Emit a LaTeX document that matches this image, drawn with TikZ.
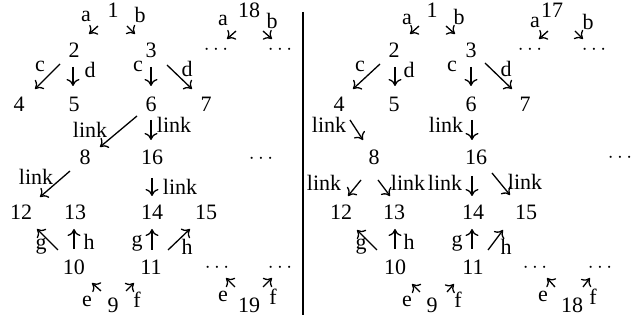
\documentclass[tikz,border=0pt]{standalone}
\usepackage{fontspec}
\setmainfont{Liberation Serif}
\usetikzlibrary{arrows.meta}
\newcommand\conn[3]{\coordinate (#1s) at (#2); \coordinate (#1e) at (#3); \draw[arr] (#1s) -- (#1e);}
\begin{document}
\begin{tikzpicture}[x=1pt,y=-1pt,
  t/.style={anchor=base,inner sep=0pt,font=\fontsize{22}{26}\selectfont},
  arr/.style={line width=1.3pt,-{Computer Modern Rightarrow[length=7pt,width=13pt]}},
  sep/.style={line width=1.2pt}]
\useasboundingbox (0,0) rectangle (641,320);
% separator
\coordinate (sepT) at (303,12); \coordinate (sepB) at (303,315);
\draw[sep] (sepT) -- (sepB);
% ---------------- left diagram ----------------
\node[t] (l1) at (113,18) {1};
\node[t] (la1) at (86,22) {a};
\node[t] (lb1) at (140,23) {b};
\node[t] (l18) at (249,18) {18};
\node[t] (la18) at (223,26) {a};
\node[t] (lb18) at (272,29) {b};
\node[t] (ld1) at (216,54.5) {$\cdots$};
\node[t] (ld2) at (280,54.5) {$\cdots$};
\node[t] (l2) at (74,58) {2};
\node[t] (l3) at (151,58) {3};
\node[t] (lc2) at (40,72) {c};
\node[t] (ldd2) at (90,78) {d};
\node[t] (lc3) at (138,72) {c};
\node[t] (ldd3) at (187,77) {d};
\node[t] (l4) at (19,112) {4};
\node[t] (l5) at (74,112) {5};
\node[t] (l6) at (151,112) {6};
\node[t] (l7) at (206,112) {7};
\node[t] (llk1) at (90,138) {link};
\node[t] (llk2) at (174,133) {link};
\node[t] (l8) at (85,165) {8};
\node[t] (l16) at (152,165) {16};
\node[t] (ld3) at (261,163.5) {$\cdots$};
\node[t] (llk3) at (36,185) {link};
\node[t] (llk4) at (180,195) {link};
\node[t] (l12) at (21,220) {12};
\node[t] (l13) at (75,220) {13};
\node[t] (l14) at (152,220) {14};
\node[t] (l15) at (206,220) {15};
\node[t] (lg1) at (41,250) {g};
\node[t] (lh1) at (89,250) {h};
\node[t] (lg2) at (137,247) {g};
\node[t] (lh2) at (187,255) {h};
\node[t] (l10) at (74,275) {10};
\node[t] (l11) at (151,275) {11};
\node[t] (ld4) at (217,272.5) {$\cdots$};
\node[t] (ld5) at (280,272.5) {$\cdots$};
\node[t] (le9) at (87,307) {e};
\node[t] (l9) at (113,313) {9};
\node[t] (lf9) at (137,308) {f};
\node[t] (le19) at (223,302) {e};
\node[t] (l19) at (249,313) {19};
\node[t] (lf19) at (273,305) {f};
\conn{LA1}{98,26}{89,34}
\conn{LB1}{127,26}{135,34}
\conn{LA18}{236,31}{227,39}
\conn{LB18}{263,31}{272,39}
\conn{LC2}{60,64}{35,89}
\conn{LD2}{73,67}{73,86}
\conn{LC3}{151,67}{151,86}
\conn{LD3}{167,65}{192,89}
\conn{LK1}{137,116}{100,147}
\conn{LK2}{151,120}{151,140}
\conn{LK3}{70,171}{40,197}
\conn{LK4}{152,178}{152,196}
\conn{LG1}{58,250}{37,229}
\conn{LH1}{74,249}{74,229}
\conn{LG2}{152,250}{152,229}
\conn{LH2}{168,250}{190,229}
\conn{LE9}{101,291}{92,283}
\conn{LF9}{126,291}{134,283}
\conn{LE19}{235,287}{226,278}
\conn{LF19}{263,287}{272,278}
% ---------------- right diagram ----------------
\node[t] (r1) at (432,18) {1};
\node[t] (ra1) at (407,25) {a};
\node[t] (rb1) at (459,25) {b};
\node[t] (r17) at (552,18) {17};
\node[t] (ra17) at (535,28) {a};
\node[t] (rb17) at (588,30) {b};
\node[t] (rd1) at (530,54.5) {$\cdots$};
\node[t] (rd2) at (594,54.5) {$\cdots$};
\node[t] (r2) at (394,58) {2};
\node[t] (r3) at (471,58) {3};
\node[t] (rc2) at (360,72) {c};
\node[t] (rdd2) at (409,78) {d};
\node[t] (rc3) at (452,72) {c};
\node[t] (rdd3) at (506,77) {d};
\node[t] (r4) at (339,112) {4};
\node[t] (r5) at (394,112) {5};
\node[t] (r6) at (471,112) {6};
\node[t] (r7) at (525,112) {7};
\node[t] (rlk1) at (329,133) {link};
\node[t] (rlk2) at (446,133) {link};
\node[t] (r8) at (374,165) {8};
\node[t] (r16) at (476,165) {16};
\node[t] (rd3) at (620,162.5) {$\cdots$};
\node[t] (rlk3) at (324,191) {link};
\node[t] (rlk4) at (408,191) {link};
\node[t] (rlk5) at (445,191) {link};
\node[t] (rlk6) at (525,190) {link};
\node[t] (r12) at (341,220) {12};
\node[t] (r13) at (394,220) {13};
\node[t] (r14) at (473,220) {14};
\node[t] (r15) at (526,220) {15};
\node[t] (rg1) at (361,250) {g};
\node[t] (rh1) at (409,250) {h};
\node[t] (rg2) at (457,247) {g};
\node[t] (rh2) at (506,255) {h};
\node[t] (r10) at (395,275) {10};
\node[t] (r11) at (473,275) {11};
\node[t] (rd4) at (535,272.5) {$\cdots$};
\node[t] (rd5) at (600,272.5) {$\cdots$};
\node[t] (re9) at (407,307) {e};
\node[t] (r9) at (432,313) {9};
\node[t] (rf9) at (458,308) {f};
\node[t] (re18) at (543,302) {e};
\node[t] (r18) at (572,313) {18};
\node[t] (rf18) at (593,305) {f};
\conn{RA1}{419,26}{410,34}
\conn{RB1}{446,26}{455,34}
\conn{RA17}{548,31}{539,39}
\conn{RB17}{575,31}{583,39}
\conn{RC2}{380,64}{353,89}
\conn{RD2}{395,67}{395,86}
\conn{RC3}{471,67}{471,86}
\conn{RD3}{485,63}{512,89}
\conn{RK1}{350,120}{363,140}
\conn{RK2}{472,120}{472,140}
\conn{RK3}{361,180}{348,196}
\conn{RK4}{378,180}{390,196}
\conn{RK5}{472,176}{472,196}
\conn{RK6}{492,173}{510,195}
\conn{RG1}{377,250}{357,230}
\conn{RH1}{395,249}{395,229}
\conn{RG2}{472,249}{472,229}
\conn{RH2}{488,250}{503,230}
\conn{RE9}{420,292}{412,284}
\conn{RF9}{447,292}{454,284}
\conn{RE18}{555,287}{547,278}
\conn{RF18}{583,287}{590,278}
\end{tikzpicture}
\end{document}
